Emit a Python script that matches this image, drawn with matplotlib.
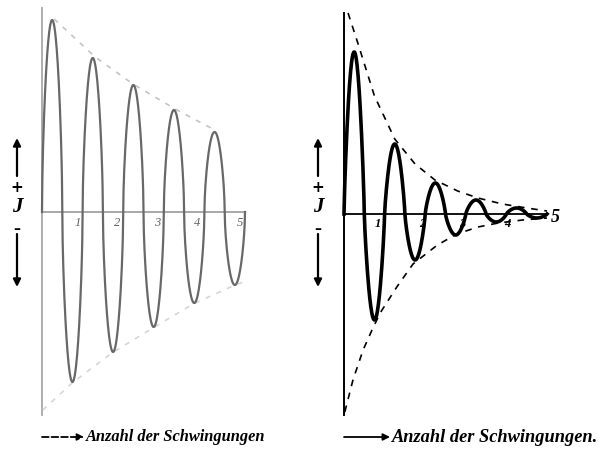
import numpy as np
import matplotlib.pyplot as plt

# zero crossings (in oscillations) and half-wave extrema (in px-like units)
crossings = [0.0, 0.5, 1.0, 1.5, 2.0, 2.5, 3.0, 3.5, 4.0, 4.5, 5.0]
left_extrema = [192, -170, 154, -140, 127, -115, 102, -91, 80, -73]
right_extrema = [162, -106, 70, -46, 31, -21, 14, -8, 6, -4]

# dashed envelopes
left_upper_t = [0.3, 1.31, 2.24, 3.28, 4.3]
left_upper_a = [193, 155, 128, 103, 81]
left_lower_t = [0.02, 0.74, 1.72, 2.73, 3.72, 4.70, 4.96]
left_lower_a = [-198, -171, -141, -116, -92, -74, -70]

right_upper_t = [0.1, 0.34, 0.75, 1.25, 1.75, 2.24, 2.8, 3.3, 3.9, 4.5, 5.0]
right_upper_a = [201, 171, 118, 75, 50, 34, 23, 16, 10, 6, 3]
right_lower_t = [0.02, 0.22, 0.47, 0.69, 0.89, 1.3, 1.7, 2.3, 2.78, 3.3, 3.8, 4.4, 5.0]
right_lower_a = [-198, -166, -136, -116, -99, -73, -50, -31, -20, -13, -9, -6, -4]

tick_labels = ["1", "2", "3", "4", "5"]
left_tick_pos = [0.89, 1.85, 2.83, 3.81, 4.88]
right_tick_pos = [0.84, 1.92, 2.9, 4.03, 5.2]

W, H = 602, 459
fig = plt.figure(figsize=(W / 100, H / 100), dpi=100)


def wave(extrema, p):
    xs, ys = [], []
    for k, a in enumerate(extrema):
        x0, x1 = crossings[k], crossings[k + 1]
        u = np.linspace(0, 1, 60)
        s = np.sin(np.pi * u)
        xs.append(x0 + (x1 - x0) * u)
        ys.append(a * s ** p)
    return np.concatenate(xs), np.concatenate(ys)


def make_axes(x0px, y0px):
    # 40.6 px per oscillation, 1 px per amplitude unit
    ppu = 40.6
    left = x0px - 0.5 * ppu
    width = 6.0 * ppu
    top = 2
    bottom = 427
    ax = fig.add_axes([left / W, (H - bottom) / H, width / W, (bottom - top) / H])
    ax.set_xlim(-0.5, 5.5)
    ax.set_ylim(-(bottom - y0px), y0px - top)
    ax.axis("off")
    return ax


serif = ["Liberation Serif", "DejaVu Serif"]

# ---------- left panel ----------
ax1 = make_axes(42, 212)
ax1.plot([0, 0], [-203, 204], color="#a8a8a8", lw=1.3)
ax1.plot([0, 5], [0, 0], color="#9a9a9a", lw=1.2)
ax1.plot(left_upper_t, left_upper_a, color="#c4c4c4", lw=1.2, ls=(0, (3, 4)))
ax1.plot(left_lower_t, left_lower_a, color="#d6d6d6", lw=1.2, ls=(0, (3, 4)))
x, y = wave(left_extrema, 0.6)
ax1.plot(x, y, color="#686868", lw=1.6)
for t, lab in zip(left_tick_pos, tick_labels):
    ax1.text(t, -11, lab, ha="center", va="center", fontsize=9,
             style="italic", color="#606060", family=serif)

# ---------- right panel ----------
ax2 = make_axes(344, 214)
ax2.plot([0, 0], [-201, 201], color="black", lw=1.4)
ax2.plot([0, 5], [0, 0], color="black", lw=1.3)
ax2.plot(right_upper_t, right_upper_a, color="black", lw=1.2, ls=(0, (4, 4)))
ax2.plot(right_lower_t, right_lower_a, color="black", lw=1.2, ls=(0, (4, 4)))
x, y = wave(right_extrema, 0.8)
ax2.plot(x, y, color="black", lw=2.6)
for t, lab in zip(right_tick_pos, tick_labels):
    big = lab == "5"
    ax2.text(t, -3 if big else -10, lab, ha="center", va="center",
             fontsize=13 if big else 9, style="italic", weight="bold",
             color="black", family=serif)

# ---------- J labels with arrows ----------
def j_label(xpx, color):
    kw = dict(xycoords="figure pixels", textcoords="figure pixels",
              arrowprops=dict(arrowstyle="-|>", color=color, lw=1.6,
                              mutation_scale=11, shrinkA=0, shrinkB=0))
    fig.axes[0].annotate("", xy=(xpx, H - 138), xytext=(xpx, H - 176), **kw)
    fig.axes[0].annotate("", xy=(xpx, H - 287), xytext=(xpx, H - 234), **kw)
    fig.text(xpx / W, (H - 187) / H, "+", ha="center", va="center",
             fontsize=11, weight="bold", color=color)
    fig.text(xpx / W, (H - 207) / H, "J", ha="center", va="center",
             fontsize=15, weight="bold", style="italic", color=color,
             family=serif)
    fig.text(xpx / W, (H - 229) / H, "\u2013", ha="center", va="center",
             fontsize=10, weight="bold", color=color)


j_label(17, "black")
j_label(318, "black")

# ---------- bottom captions ----------
for x0, x1, dashed, txt, fs in [(42, 84, True, "Anzahl der Schwingungen", 11.8),
                                (344, 390, False, "Anzahl der Schwingungen.", 13.2)]:
    fig.axes[0].annotate("", xy=(x1, H - 437), xytext=(x0, H - 437),
                         xycoords="figure pixels", textcoords="figure pixels",
                         arrowprops=dict(arrowstyle="-|>", color="black", lw=1.3,
                                         ls="--" if dashed else "-",
                                         mutation_scale=10, shrinkA=0, shrinkB=0))
    fig.text((x1 + 2) / W, (H - 437) / H, txt, ha="left", va="center",
             fontsize=fs, weight="bold", style="italic", family=serif)

fig.savefig("out.png", dpi=100, facecolor="white")
